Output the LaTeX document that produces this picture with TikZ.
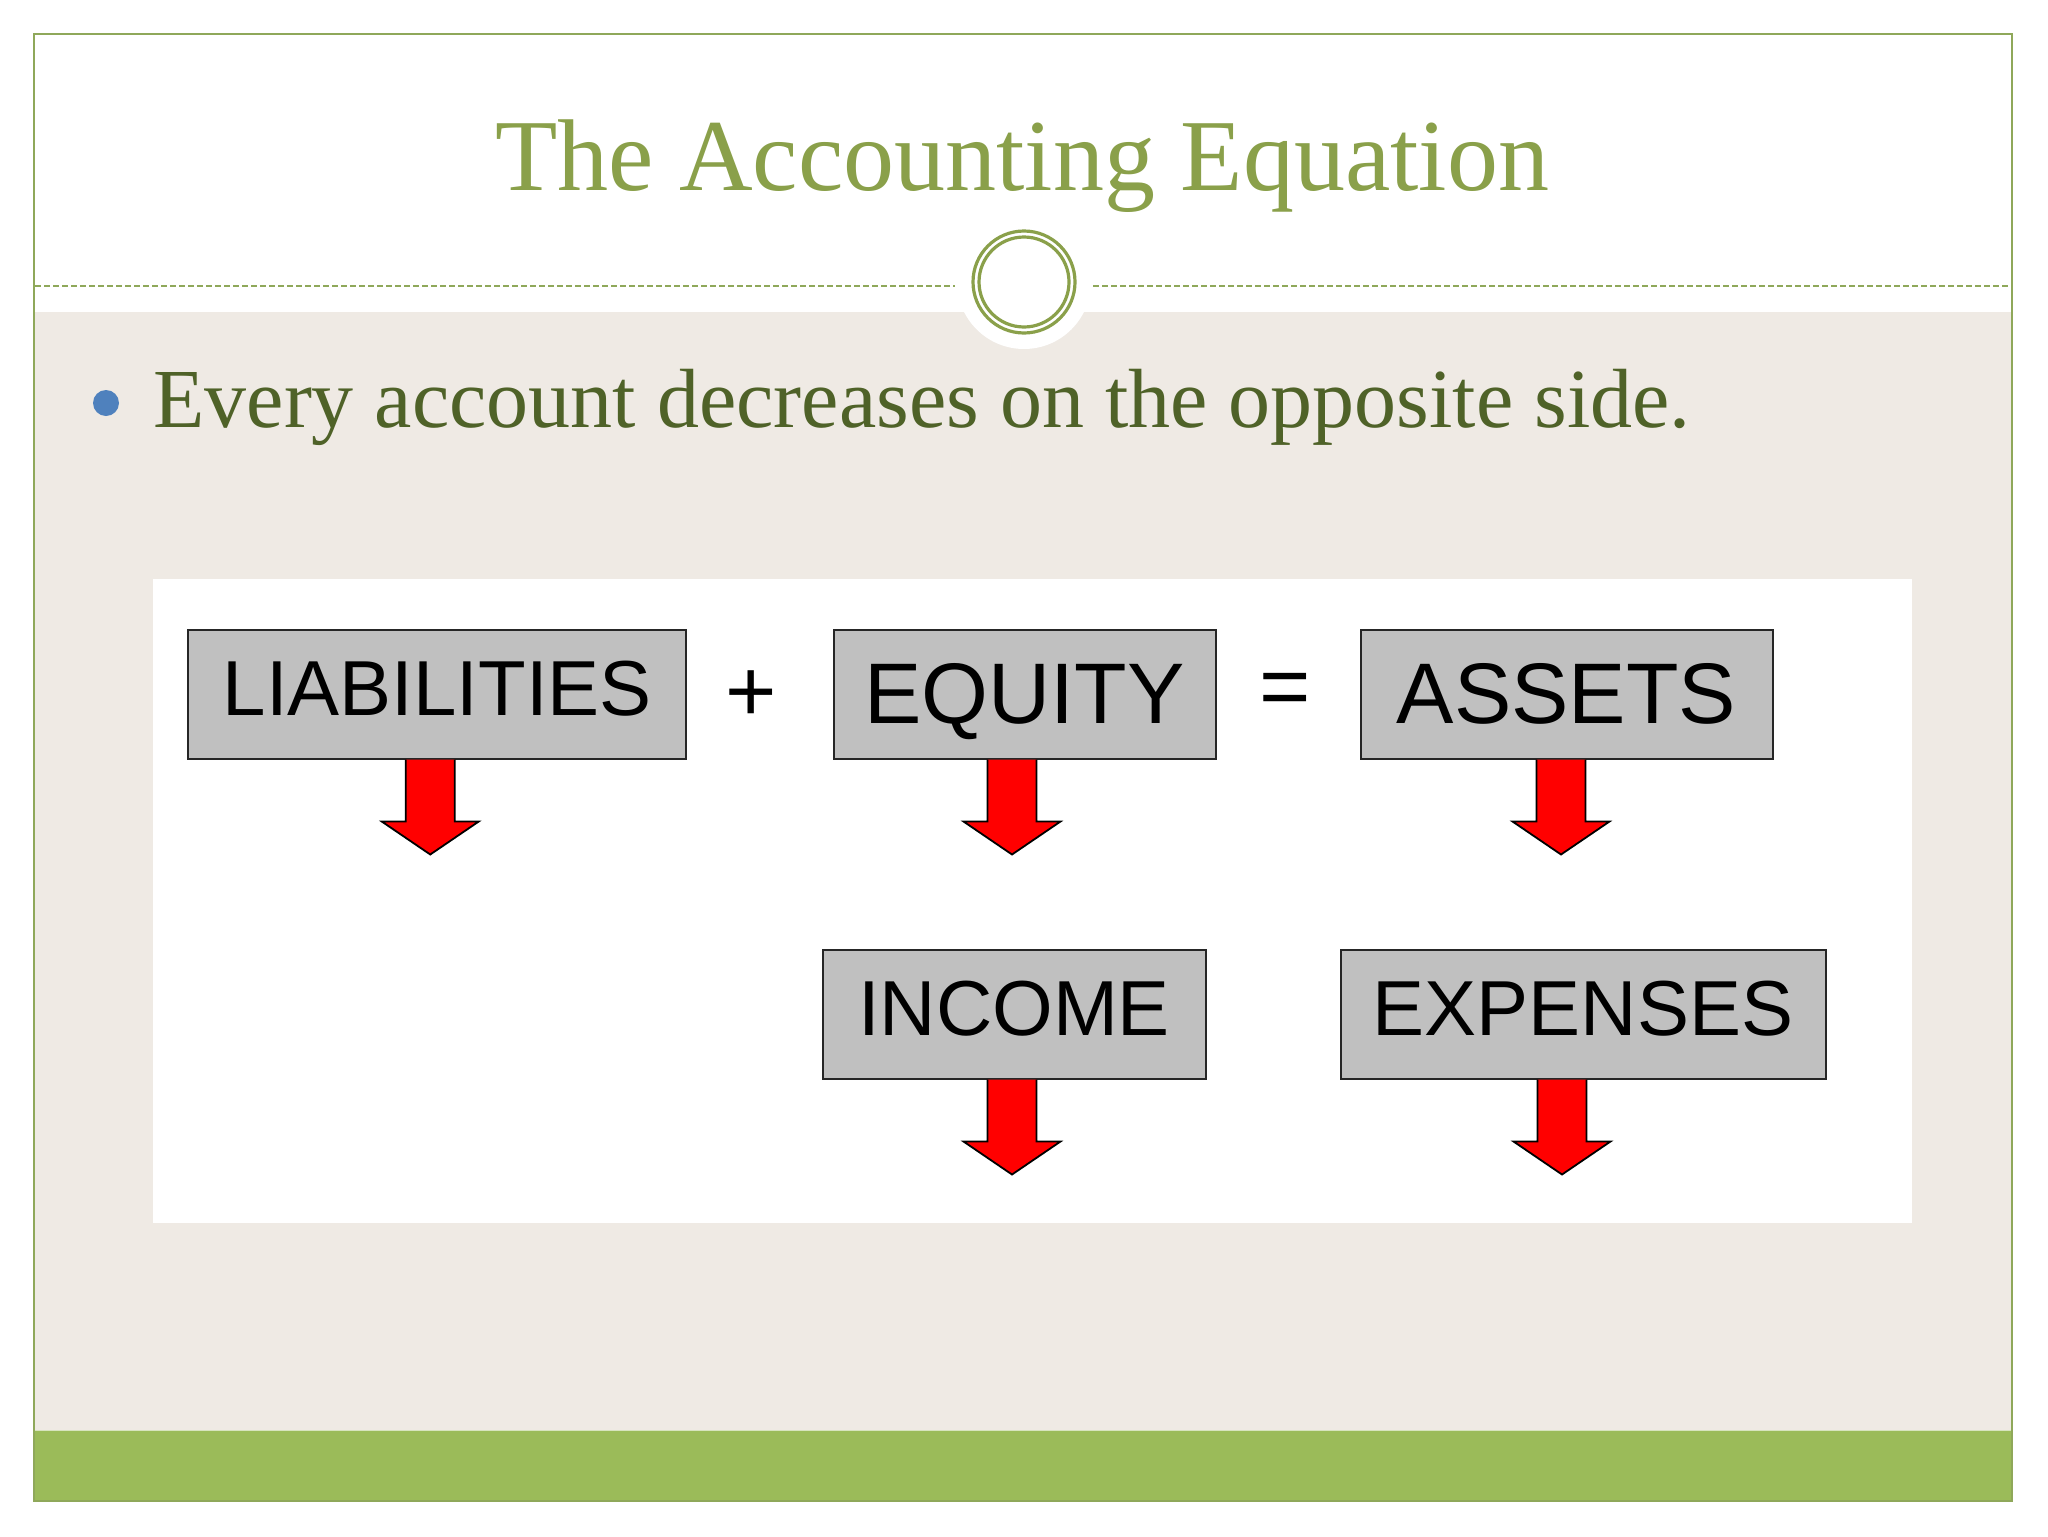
\documentclass[tikz,border=0pt]{standalone}
\usepackage{fontspec}
\setmainfont{Liberation Serif}
\newfontfamily\boxfont{Liberation Sans}
\usetikzlibrary{calc}
\definecolor{framegreen}{HTML}{8FA85A}
\definecolor{titlegreen}{HTML}{8AA04A}
\definecolor{bodygreen}{HTML}{4F6228}
\definecolor{beigebg}{HTML}{EFEAE4}
\definecolor{bandgreen}{HTML}{9BBB59}
\definecolor{bulletblue}{HTML}{4F81BD}
\definecolor{boxgray}{HTML}{C0C0C0}
\begin{document}
\begin{tikzpicture}[x=0.5pt,y=-0.5pt,
  acctsmall/.style={draw=black!85, line width=1pt, fill=boxgray, inner sep=0pt,
    font=\boxfont\fontsize{39}{47}\selectfont, text height=27.9pt, text depth=6pt},
  acctbig/.style={draw=black!85, line width=1pt, fill=boxgray, inner sep=0pt,
    font=\boxfont\fontsize{43}{51}\selectfont, text height=30.8pt, text depth=1.5pt},
  opsign/.style={inner sep=0pt, font=\boxfont\fontsize{44}{52}\selectfont},
  redarrow/.pic={
    \fill[red] (-24.5,0) -- (-24.5,62) -- (-48.5,62) -- (0,95) -- (48.5,62) -- (24.5,62) -- (24.5,0) -- cycle;
    \draw[black, line width=0.9pt, line join=miter] (-24.5,0) -- (-24.5,62) -- (-48.5,62) -- (0,95) -- (48.5,62) -- (24.5,62) -- (24.5,0);
  }]
\useasboundingbox (0,0) rectangle (2048,1536);
% background
\fill[white] (0,0) rectangle (2048,1536);
\fill[beigebg] (34,312) rectangle (2012,1430);
\fill[bandgreen] (34,1430) rectangle (2012,1501);
\draw[bandgreen!40!white, line width=0.75pt] (35,1430.5) -- (2011,1430.5);
\fill[white] (1024,282) circle[radius=33.5pt];
\fill[white] (153,579) rectangle (1912,1223);
% frame
\draw[framegreen, line width=1pt] (34,34) rectangle (2012,1501);
% dashed rule
\draw[framegreen, line width=1pt, dash pattern=on 3pt off 1.5pt] (35,286) -- (955,286);
\draw[framegreen, line width=1pt, dash pattern=on 3pt off 1.5pt] (1093,286) -- (2011,286);
% circle ornament
\node[circle, draw=titlegreen, line width=1.6pt, minimum size=51pt, inner sep=0pt] (ringout) at (1024,282) {};
\node[circle, draw=titlegreen, line width=1.6pt, minimum size=45pt, inner sep=0pt] (ringin) at (1024,282) {};
% title
\node[anchor=base, inner sep=0pt, text=titlegreen, font=\fontsize{51}{60}\selectfont] (title) at (1022,190) {The Accounting Equation};
% bullet
\node[circle, fill=bulletblue, minimum size=13pt, inner sep=0pt] (dot) at (106,403) {};
\node[anchor=base west, inner sep=0pt, text=bodygreen, font=\fontsize{42}{50}\selectfont] (body) at (153,427) {Every account decreases on the opposite side.};
% boxes
\node[acctsmall, minimum width=249pt, minimum height=64.5pt] (liab) at (437.25,694) {LIABILITIES};
\node[opsign] (plus) at (751,696) {+};
\node[acctbig, minimum width=191pt, minimum height=64.5pt] (equity) at (1024.5,694) {EQUITY};
\node[opsign] (equals) at (1285,695) {=};
\node[acctbig, minimum width=206pt, minimum height=64.5pt] (assets) at (1566.5,694) {ASSETS};
\node[acctsmall, minimum width=191.5pt, minimum height=64.5pt] (income) at (1014,1014) {INCOME};
\node[acctsmall, minimum width=242.5pt, minimum height=64.5pt] (expenses) at (1583,1014) {EXPENSES};
% arrows
\pic at ($(liab.south)+(-7,0)$) {redarrow};
\pic at ($(equity.south)+(-12.5,0)$) {redarrow};
\pic at ($(assets.south)+(-5.5,0)$) {redarrow};
\pic at ($(income.south)+(-2,0)$) {redarrow};
\pic at ($(expenses.south)+(-21,0)$) {redarrow};
\end{tikzpicture}
\end{document}
